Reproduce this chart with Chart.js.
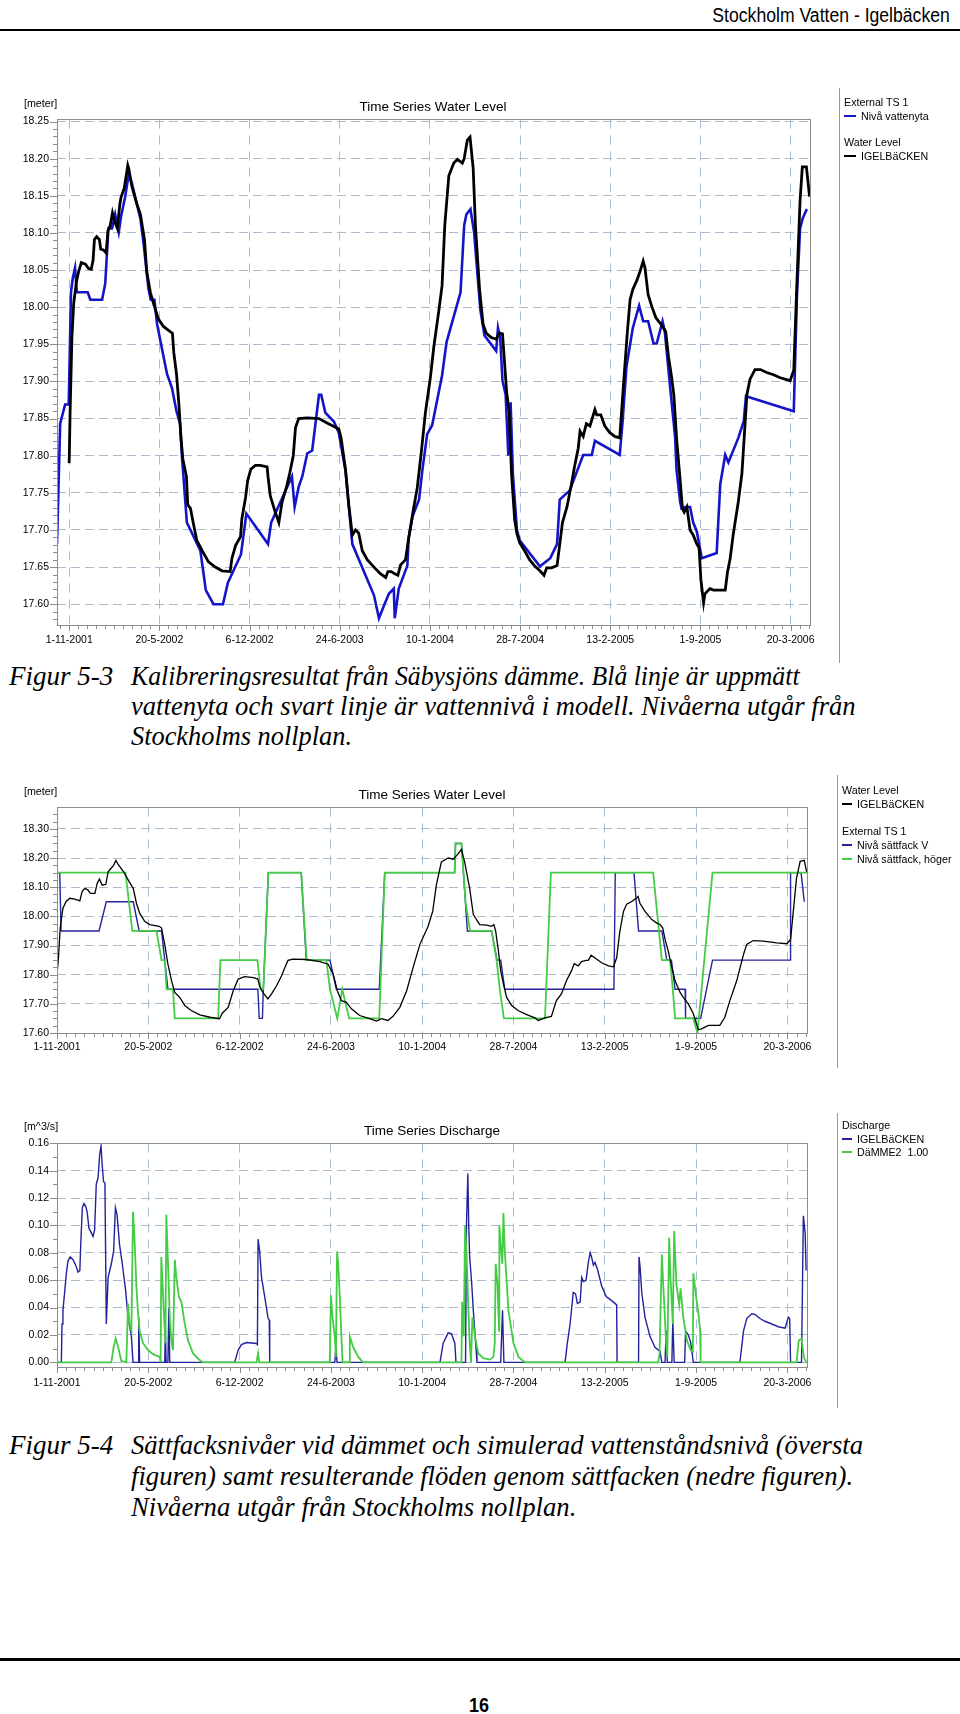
<!DOCTYPE html>
<html>
<head>
<meta charset="utf-8">
<script src="https://cdn.jsdelivr.net/npm/chart.js@4.4.1/dist/chart.umd.min.js"></script>
<style>
  body { margin: 0; background: #fff; }
  #page { position: relative; width: 960px; height: 1714px; overflow: hidden; font-family: "Liberation Sans", Arial, sans-serif; color: #000; }
  .abs { position: absolute; white-space: nowrap; }
  canvas { position: absolute; left: 0; }
  .t { font-size: 10.7px; line-height: 13px; }
  .ttl { font-size: 13.5px; line-height: 16px; transform: translateX(-50%); }
  .sw { display: inline-block; width: 10px; height: 2px; vertical-align: middle; margin-right: 5px; position: relative; top: -1px; }
  .cap { font-family: "Liberation Serif", "Times New Roman", serif; font-style: italic; font-size: 27px; line-height: 30px; transform-origin: left center; }
  .vline { position: absolute; width: 1px; background: #9a9a9a; }
</style>
</head>
<body>
<div id="page">
  <div class="abs" style="right:10px;top:3px;font:20px/24px 'Liberation Sans Narrow','Liberation Sans',sans-serif;transform:scaleX(0.88);transform-origin:right center;">Stockholm Vatten - Igelbäcken</div>
  <div class="abs" style="left:0;top:29px;width:960px;height:2px;background:#000;"></div>

  <canvas id="levelChart" width="830" height="554" style="top:105px;"></canvas>
  <canvas id="gateChart" width="830" height="274" style="top:793px;"></canvas>
  <canvas id="flowChart" width="830" height="272" style="top:1129px;"></canvas>

  <!-- chart 1 texts -->
  <div class="abs t" style="left:24px;top:97px;">[meter]</div>
  <div class="abs ttl" style="left:433px;top:99px;">Time Series Water Level</div>
  <div class="vline" style="left:839px;top:88px;height:575px;"></div>
  <div class="abs t" style="left:844px;top:96px;">External TS 1</div>
  <div class="abs t" style="left:844px;top:110px;"><span class="sw" style="background:#1414c8;width:12px;"></span>Nivå vattenyta</div>
  <div class="abs t" style="left:844px;top:136px;">Water Level</div>
  <div class="abs t" style="left:844px;top:150px;"><span class="sw" style="background:#000;width:12px;"></span>IGELBäCKEN</div>

  <div class="abs cap" style="left:9px;top:661px;">Figur 5-3</div>
  <div class="abs cap" style="left:131px;top:661px;transform:scaleX(0.953);">Kalibreringsresultat från Säbysjöns dämme. Blå linje är uppmätt</div>
  <div class="abs cap" style="left:131px;top:691px;transform:scaleX(0.985);">vattenyta och svart linje är vattennivå i modell. Nivåerna utgår från</div>
  <div class="abs cap" style="left:131px;top:721px;transform:scaleX(0.976);">Stockholms nollplan.</div>

  <!-- chart 2 texts -->
  <div class="abs t" style="left:24px;top:785px;">[meter]</div>
  <div class="abs ttl" style="left:432px;top:787px;">Time Series Water Level</div>
  <div class="vline" style="left:837px;top:775px;height:293px;"></div>
  <div class="abs t" style="left:842px;top:784px;">Water Level</div>
  <div class="abs t" style="left:842px;top:798px;"><span class="sw" style="background:#000;height:1.5px;"></span>IGELBäCKEN</div>
  <div class="abs t" style="left:842px;top:825px;">External TS 1</div>
  <div class="abs t" style="left:842px;top:839px;"><span class="sw" style="background:#25259a;height:1.5px;"></span>Nivå sättfack V</div>
  <div class="abs t" style="left:842px;top:853px;"><span class="sw" style="background:#44cc44;height:1.5px;"></span>Nivå sättfack, höger</div>

  <!-- chart 3 texts -->
  <div class="abs t" style="left:24px;top:1120px;">[m^3/s]</div>
  <div class="abs ttl" style="left:432px;top:1123px;">Time Series Discharge</div>
  <div class="vline" style="left:837px;top:1113px;height:295px;"></div>
  <div class="abs t" style="left:842px;top:1119px;">Discharge</div>
  <div class="abs t" style="left:842px;top:1133px;"><span class="sw" style="background:#22229c;height:1.5px;"></span>IGELBäCKEN</div>
  <div class="abs t" style="left:842px;top:1146px;"><span class="sw" style="background:#44cc44;height:1.5px;"></span>DäMME2&nbsp; 1.00</div>

  <div class="abs cap" style="left:9px;top:1430px;">Figur 5-4</div>
  <div class="abs cap" style="left:131px;top:1430px;transform:scaleX(0.986);">Sättfacksnivåer vid dämmet och simulerad vattenståndsnivå (översta</div>
  <div class="abs cap" style="left:131px;top:1461px;transform:scaleX(0.988);">figuren) samt resulterande flöden genom sättfacken (nedre figuren).</div>
  <div class="abs cap" style="left:131px;top:1492px;transform:scaleX(0.988);">Nivåerna utgår från Stockholms nollplan.</div>

  <div class="abs" style="left:0;top:1658px;width:960px;height:3px;background:#000;"></div>
  <div class="abs" style="left:479px;top:1693px;transform:translateX(-50%) scaleX(0.9);font:bold 20px/24px 'Liberation Sans Narrow','Liberation Sans',sans-serif;">16</div>
</div>

<script>
// x values are days counted from 1-11-2001
const dateLabels = ['1-11-2001', '20-5-2002', '6-12-2002', '24-6-2003', '10-1-2004', '28-7-2004', '13-2-2005', '1-9-2005', '20-3-2006'];

const levelTicks1 = [18.25, 18.20, 18.15, 18.10, 18.05, 18.00, 17.95, 17.90, 17.85, 17.80, 17.75, 17.70, 17.65, 17.60];
const levelTicks2 = [18.30, 18.20, 18.10, 18.00, 17.90, 17.80, 17.70, 17.60];
const flowTicks = [0.16, 0.14, 0.12, 0.10, 0.08, 0.06, 0.04, 0.02, 0.00];

// Figur 5-3: measured water surface (blue) and model level (black)
const measuredLevel = [[-27,17.681],[-20,17.843],[-9,17.869],[-1,17.869],[4,18.02],[8,18.039],[13,18.053],[17,18.02],[41,18.02],[47,18.01],[73,18.01],[80,18.032],[87,18.106],[95,18.106],[102,18.125],[110,18.101],[115,18.122],[124,18.148],[132,18.179],[139,18.167],[158,18.119],[165,18.086],[176,18.024],[181,18.01],[189,18.01],[195,17.977],[217,17.91],[228,17.891],[238,17.86],[246,17.843],[250,17.8],[261,17.71],[291,17.672],[303,17.619],[320,17.6],[341,17.6],[352,17.629],[381,17.667],[393,17.722],[441,17.681],[448,17.71],[494,17.772],[500,17.731],[509,17.758],[517,17.772],[528,17.803],[539,17.807],[554,17.882],[559,17.882],[568,17.858],[587,17.846],[598,17.831],[613,17.779],[628,17.681],[676,17.612],[687,17.581],[698,17.598],[709,17.614],[720,17.621],[722,17.581],[731,17.621],[750,17.652],[753,17.69],[762,17.719],[776,17.741],[783,17.779],[794,17.829],[805,17.841],[827,17.908],[837,17.953],[868,18.02],[876,18.11],[881,18.125],[890,18.132],[898,18.101],[912,17.996],[921,17.962],[947,17.941],[951,17.972],[956,17.958],[961,17.901],[968,17.882],[974,17.8],[979,17.872],[984,17.776],[993,17.7],[999,17.686],[1044,17.651],[1067,17.662],[1082,17.681],[1088,17.741],[1110,17.753],[1140,17.801],[1159,17.801],[1166,17.82],[1221,17.801],[1227,17.843],[1236,17.92],[1250,17.972],[1264,18.002],[1273,17.981],[1284,17.981],[1296,17.951],[1303,17.951],[1316,17.981],[1321,17.967],[1333,17.891],[1344,17.824],[1347,17.781],[1355,17.738],[1358,17.729],[1366,17.731],[1377,17.731],[1384,17.71],[1392,17.698],[1403,17.662],[1436,17.669],[1444,17.762],[1455,17.801],[1462,17.791],[1484,17.824],[1496,17.846],[1501,17.88],[1607,17.86],[1614,18.015],[1621,18.106],[1627,18.12],[1636,18.132]];

const modelLevel = [[0,17.79],[2,17.857],[6,17.958],[10,18.005],[16,18.034],[21,18.048],[27,18.06],[36,18.058],[43,18.052],[49,18.051],[53,18.063],[56,18.091],[61,18.095],[67,18.091],[70,18.078],[76,18.077],[82,18.073],[86,18.103],[91,18.11],[96,18.127],[101,18.115],[107,18.106],[112,18.137],[115,18.148],[122,18.16],[127,18.179],[130,18.191],[132,18.187],[139,18.163],[150,18.139],[158,18.125],[167,18.091],[172,18.048],[180,18.02],[189,18.001],[198,17.984],[209,17.974],[224,17.967],[229,17.965],[232,17.939],[238,17.91],[243,17.872],[248,17.824],[252,17.796],[260,17.772],[263,17.734],[269,17.729],[275,17.71],[283,17.686],[295,17.672],[309,17.657],[324,17.65],[339,17.645],[357,17.644],[361,17.662],[369,17.679],[380,17.691],[383,17.715],[391,17.743],[396,17.767],[403,17.782],[413,17.787],[424,17.787],[439,17.785],[441,17.772],[446,17.746],[457,17.724],[465,17.71],[472,17.737],[482,17.758],[489,17.776],[497,17.8],[502,17.838],[509,17.85],[528,17.851],[554,17.85],[572,17.844],[598,17.836],[603,17.824],[613,17.781],[620,17.734],[628,17.693],[635,17.7],[642,17.696],[650,17.672],[661,17.66],[676,17.65],[690,17.641],[702,17.636],[707,17.644],[714,17.644],[722,17.641],[729,17.639],[735,17.653],[746,17.66],[751,17.681],[761,17.719],[772,17.757],[781,17.805],[790,17.858],[801,17.905],[809,17.948],[820,17.996],[827,18.029],[833,18.11],[842,18.177],[853,18.194],[861,18.199],[872,18.194],[876,18.2],[883,18.225],[889,18.229],[896,18.187],[901,18.11],[910,18.025],[918,17.977],[925,17.965],[936,17.959],[947,17.957],[951,17.962],[955,17.965],[961,17.964],[964,17.939],[970,17.887],[976,17.858],[981,17.776],[988,17.714],[993,17.695],[999,17.683],[1010,17.672],[1021,17.66],[1033,17.651],[1044,17.645],[1053,17.639],[1059,17.649],[1070,17.649],[1082,17.652],[1088,17.681],[1094,17.71],[1104,17.731],[1114,17.762],[1121,17.786],[1129,17.81],[1133,17.833],[1140,17.826],[1147,17.843],[1155,17.84],[1166,17.862],[1170,17.855],[1179,17.855],[1188,17.84],[1199,17.831],[1210,17.826],[1221,17.824],[1225,17.858],[1230,17.901],[1238,17.967],[1244,18.01],[1250,18.024],[1259,18.036],[1266,18.048],[1273,18.062],[1277,18.053],[1284,18.017],[1292,18.001],[1301,17.986],[1310,17.979],[1318,17.972],[1323,17.967],[1329,17.934],[1336,17.906],[1341,17.882],[1347,17.824],[1355,17.767],[1360,17.729],[1364,17.724],[1370,17.731],[1377,17.7],[1384,17.693],[1392,17.681],[1397,17.676],[1401,17.633],[1407,17.602],[1410,17.614],[1421,17.621],[1429,17.619],[1455,17.619],[1460,17.643],[1466,17.662],[1473,17.695],[1484,17.738],[1492,17.776],[1497,17.824],[1503,17.882],[1510,17.903],[1521,17.916],[1533,17.916],[1547,17.912],[1562,17.909],[1577,17.905],[1599,17.901],[1607,17.915],[1614,18.034],[1621,18.144],[1626,18.189],[1635,18.189],[1638,18.172],[1642,18.149]];

// Figur 5-4 top: simulated level and the two gate levels
const simLevel = [[0,17.8],[3,17.853],[7,17.96],[13,18.028],[20,18.051],[28,18.062],[39,18.059],[50,18.053],[55,18.085],[61,18.096],[68,18.09],[73,18.079],[83,18.079],[88,18.113],[93,18.128],[99,18.107],[107,18.11],[112,18.153],[118,18.164],[124,18.175],[129,18.192],[134,18.178],[146,18.153],[158,18.119],[167,18.096],[174,18.045],[181,18.011],[192,17.983],[203,17.972],[224,17.966],[229,17.96],[236,17.904],[243,17.836],[251,17.779],[258,17.739],[269,17.722],[280,17.694],[294,17.677],[313,17.662],[335,17.654],[356,17.649],[362,17.668],[375,17.688],[386,17.745],[397,17.785],[411,17.793],[430,17.79],[440,17.785],[444,17.759],[451,17.739],[462,17.717],[470,17.734],[481,17.762],[492,17.796],[499,17.824],[506,17.849],[517,17.853],[546,17.852],[576,17.845],[594,17.836],[605,17.802],[614,17.745],[623,17.711],[634,17.705],[645,17.683],[663,17.66],[685,17.649],[700,17.641],[711,17.649],[725,17.643],[736,17.657],[751,17.688],[766,17.745],[780,17.824],[795,17.904],[813,17.966],[823,18.017],[831,18.107],[842,18.187],[857,18.2],[868,18.196],[879,18.215],[886,18.23],[893,18.187],[904,18.096],[912,18.006],[926,17.972],[941,17.97],[952,17.966],[957,17.972],[961,17.949],[967,17.881],[972,17.813],[978,17.768],[985,17.722],[996,17.694],[1010,17.677],[1029,17.663],[1047,17.652],[1054,17.643],[1069,17.652],[1083,17.657],[1094,17.711],[1105,17.734],[1116,17.779],[1127,17.813],[1133,17.838],[1142,17.83],[1149,17.845],[1159,17.849],[1164,17.849],[1170,17.867],[1178,17.858],[1193,17.841],[1208,17.83],[1219,17.827],[1226,17.858],[1233,17.949],[1241,18.017],[1248,18.042],[1259,18.051],[1270,18.064],[1273,18.068],[1277,18.045],[1288,18.017],[1303,17.989],[1314,17.977],[1321,17.972],[1327,17.96],[1332,17.921],[1339,17.881],[1347,17.824],[1354,17.779],[1365,17.739],[1372,17.722],[1383,17.7],[1394,17.666],[1405,17.611],[1412,17.614],[1427,17.626],[1452,17.626],[1463,17.654],[1474,17.711],[1489,17.779],[1504,17.87],[1511,17.904],[1525,17.917],[1547,17.915],[1577,17.909],[1599,17.906],[1607,17.921],[1613,18.017],[1620,18.13],[1628,18.189],[1637,18.192],[1642,18.153]];

const gateLeft = [[0,18.15],[6,18.15],[9,17.95],[92,17.95],[108,18.05],[167,18.05],[180,17.95],[229,17.95],[243,17.75],[440,17.75],[443,17.65],[450,17.65],[452,17.75],[463,18.15],[535,18.15],[546,17.85],[598,17.85],[612,17.75],[706,17.75],[718,18.15],[871,18.15],[873,18.25],[886,18.25],[899,17.95],[952,17.95],[964,17.85],[972,17.85],[981,17.75],[1220,17.75],[1223,18.15],[1264,18.15],[1274,17.95],[1325,17.95],[1336,17.85],[1346,17.85],[1354,17.75],[1376,17.75],[1377,17.65],[1410,17.65],[1436,17.85],[1606,17.85],[1607,18.15],[1630,18.15],[1637,18.05]];

const gateRight = [[0,18.15],[150,18.15],[165,17.95],[218,17.95],[229,17.85],[236,17.85],[240,17.75],[254,17.75],[258,17.65],[353,17.65],[358,17.85],[439,17.85],[446,17.75],[452,17.75],[463,18.15],[535,18.15],[547,17.85],[590,17.85],[598,17.75],[614,17.65],[625,17.75],[640,17.65],[706,17.65],[718,18.15],[871,18.15],[873,18.25],[886,18.25],[895,18.05],[905,17.95],[952,17.95],[963,17.85],[970,17.75],[979,17.65],[1069,17.65],[1082,18.15],[1306,18.15],[1325,17.85],[1343,17.85],[1349,17.75],[1354,17.65],[1394,17.65],[1403,17.6],[1436,18.15],[1643,18.15]];

// Figur 5-4 bottom: discharge
const flowModel = [[0,0],[9.5,0],[11,0.028],[13,0.038],[17,0.052],[20.5,0.065],[24,0.074],[29,0.077],[35,0.075],[41,0.071],[46,0.066],[50,0.067],[52,0.086],[55.5,0.113],[59,0.116],[63,0.114],[66,0.11],[70,0.098],[73,0.096],[79,0.092],[82.5,0.097],[86,0.13],[90,0.135],[93.5,0.152],[96.5,0.158],[99,0.144],[102,0.132],[105,0.131],[108,0.028],[112,0.062],[119,0.072],[124,0.081],[128,0.113],[131.5,0.108],[137,0.086],[143,0.072],[150.5,0.052],[155.5,0.033],[163,0.019],[166.5,0],[177.5,0],[179,0.033],[181,0],[236,0],[237.5,0.025],[239,0],[243,0],[245,0.04],[247,0],[389,0],[397,0.009],[404,0.013],[415,0.0145],[437,0.0138],[439,0.013],[440.5,0.09],[444,0.081],[448,0.062],[455,0.048],[462.5,0.032],[465,0.031],[466,0],[608.5,0],[611,0.011],[613.5,0],[839,0],[846,0.014],[857,0.0215],[864,0.021],[871.5,0.014],[874,0],[895,0],[897,0.1],[900,0.138],[902,0.1],[904,0.077],[908,0.06],[912,0.038],[918,0.01],[920,0],[972,0],[976,0.038],[979,0],[1113,0],[1118,0.014],[1124,0.028],[1131,0.051],[1136,0.05],[1140,0.043],[1146,0.044],[1149.5,0.062],[1153,0.059],[1159,0.06],[1164,0.073],[1168,0.08],[1171,0.077],[1175,0.071],[1178.5,0.073],[1184,0.068],[1193,0.056],[1203,0.048],[1211.5,0.046],[1219,0.044],[1226,0.042],[1227,0],[1274,0],[1275,0.077],[1277.5,0.069],[1281,0.051],[1288,0.033],[1299,0.019],[1310,0.011],[1321,0.008],[1325,0],[1332,0],[1334.5,0.023],[1337,0],[1347,0],[1349,0.031],[1352,0],[1375,0],[1377,0.023],[1383,0.02],[1388,0.015],[1394,0],[1496,0],[1504,0.023],[1511,0.032],[1522,0.0355],[1529,0.035],[1540,0.032],[1551,0.03],[1566,0.028],[1580,0.026],[1595,0.025],[1602,0.033],[1605,0.032],[1607,0],[1631,0],[1635,0.107],[1639,0.094],[1641,0.067]];

const flowDam = [[0,0],[119,0],[124,0.011],[128.5,0.0174],[134,0.011],[141,0.001],[152,0],[155.5,0.043],[159,0.028],[163,0.023],[166.5,0.11],[170,0.089],[174,0.055],[177.5,0.036],[181,0.023],[188.5,0.014],[199.5,0.009],[210,0.006],[225,0.004],[227,0],[228.5,0.077],[234,0.038],[237.5,0.014],[239.5,0.108],[243,0.074],[247,0.033],[250.5,0.016],[254,0.009],[258,0.075],[261.5,0.062],[267,0.048],[272.5,0.044],[280,0.028],[287,0.016],[298,0.0065],[312.5,0.0017],[320,0],[437,0],[440.5,0.0065],[443,0],[597.5,0],[600,0.049],[603.5,0.033],[608.5,0.019],[611,0.004],[613.5,0.081],[616,0.072],[619.5,0.048],[623,0.019],[625.5,0],[640,0],[641.5,0.019],[649,0.011],[660,0.004],[670.5,0],[886,0],[887.5,0.044],[891,0.019],[894,0.1],[897,0.081],[901,0.04],[904,0.014],[907,0],[910,0.033],[915.5,0.019],[923,0.0065],[934,0.003],[948,0.002],[956,0.004],[959,0.014],[961,0.072],[965,0.057],[968.5,0.023],[969,0.1],[972,0.086],[975.5,0.072],[978,0.109],[981,0.081],[989,0.038],[1000,0.014],[1011,0.004],[1025,0],[1317,0],[1320,0.006],[1325,0.079],[1328,0.057],[1334.5,0.014],[1337,0.004],[1341,0.091],[1344,0.062],[1349,0.028],[1352,0.096],[1357,0.057],[1363,0.042],[1366,0.054],[1372,0.033],[1380,0.016],[1388,0.009],[1393,0.008],[1394,0.065],[1400,0.048],[1405,0.036],[1409,0.023],[1410,0],[1620,0],[1625,0.016],[1631,0.0174],[1636,0.004],[1641,0],[1643,0]];

function dayOf(label) {
    const [d, m, y] = label.split('-').map(Number);
    return Math.round((Date.UTC(y, m - 1, d) - Date.UTC(2001, 10, 1)) / 864e5);
}
const tickDays = dateLabels.map(dayOf);
const toXY = (pairs) => pairs.map(([d, v]) => ({ x: d, y: v }));

// frame round the plot plus the small tick marks on both axes
const frameTicks = {
    id: 'frameTicks',
    afterDraw(chart, args, o) {
        const { ctx, chartArea: a, scales: { x, y } } = chart;
        ctx.save();
        ctx.strokeStyle = '#8c8c8c';
        ctx.lineWidth = 1;
        ctx.strokeRect(Math.round(a.left) + 0.5, Math.round(a.top) + 0.5, Math.round(a.right - a.left), Math.round(a.bottom - a.top));
        ctx.beginPath();
        for (let d = Math.ceil(x.min / 20) * 20; d <= x.max; d += 20) {
            const px = Math.round(x.getPixelForValue(d)) + 0.5;
            ctx.moveTo(px, a.bottom);
            ctx.lineTo(px, a.bottom + (d % 200 === 0 ? 6 : 4));
        }
        const k0 = Math.ceil(y.min / o.yMinor - 1e-6), k1 = Math.floor(y.max / o.yMinor + 1e-6);
        for (let k = k0; k <= k1; k++) {
            const v = k * o.yMinor;
            const r = v / o.yMajor;
            const major = Math.abs(r - Math.round(r)) < 1e-6;
            const py = Math.round(y.getPixelForValue(v)) + 0.5;
            ctx.moveTo(a.left, py);
            ctx.lineTo(a.left - (major ? 7 : 4), py);
        }
        ctx.stroke();
        ctx.restore();
    },
};

const tickFont = { family: 'Liberation Sans', size: 10.5 };
const gridColor = '#a9bccd';

function seriesChart(id, cfg) {
    return new Chart(document.getElementById(id), {
        type: 'line',
        plugins: [frameTicks],
        data: { datasets: cfg.datasets },
        options: {
            responsive: false,
            animation: false,
            events: [],
            layout: { padding: { left: 0, top: 12, right: 830 - cfg.right, bottom: 0 } },
            elements: { point: { radius: 0 }, line: { tension: 0 } },
            plugins: { legend: { display: false }, tooltip: { enabled: false }, frameTicks: { yMinor: cfg.yMinor, yMajor: cfg.yMajor } },
            scales: {
                x: {
                    type: 'linear', min: cfg.xMin, max: cfg.xMax,
                    afterBuildTicks: (s) => { s.ticks = tickDays.map((v) => ({ value: v })); },
                    afterFit: (s) => { s.height = 34; },
                    grid: { color: gridColor, drawTicks: false },
                    border: { display: false, dash: [9, 7] },
                    ticks: { autoSkip: false, maxRotation: 0, padding: cfg.xPad, color: '#000', font: tickFont, callback: (v, i) => dateLabels[i] },
                },
                y: {
                    type: 'linear', min: cfg.yMin, max: cfg.yMax,
                    afterBuildTicks: (s) => { s.ticks = cfg.yTicks.map((v) => ({ value: v })); },
                    afterFit: (s) => { s.width = cfg.left; },
                    grid: { color: gridColor, drawTicks: false },
                    border: { display: false, dash: [9, 5] },
                    ticks: { autoSkip: false, padding: 8, color: '#000', font: tickFont, callback: (v) => v.toFixed(2) },
                },
            },
        },
    });
}

seriesChart('levelChart', {
    left: 57, right: 810, xMin: -27, xMax: 1643, yMin: 17.572, yMax: 18.253,
    yTicks: levelTicks1, yMinor: 0.01, yMajor: 0.05, xPad: 9,
    datasets: [
        { label: 'IGELBäCKEN', data: toXY(modelLevel), borderColor: '#000', borderWidth: 2.8, order: 0 },
        { label: 'Nivå vattenyta', data: toXY(measuredLevel), borderColor: '#1414c8', borderWidth: 2.6, order: 1 },
    ],
});

seriesChart('gateChart', {
    left: 57, right: 807, xMin: 0, xMax: 1643, yMin: 17.6, yMax: 18.374,
    yTicks: levelTicks2, yMinor: 0.025, yMajor: 0.1, xPad: 8,
    datasets: [
        { label: 'IGELBäCKEN', data: toXY(simLevel), borderColor: '#000', borderWidth: 1.3, order: 0 },
        { label: 'Nivå sättfack, höger', data: toXY(gateRight), borderColor: '#44cc44', borderWidth: 1.8, order: 1 },
        { label: 'Nivå sättfack V', data: toXY(gateLeft), borderColor: '#25259a', borderWidth: 1.4, order: 2 },
    ],
});

seriesChart('flowChart', {
    left: 57, right: 807, xMin: 0, xMax: 1643, yMin: -0.0034, yMax: 0.16,
    yTicks: flowTicks, yMinor: 0.01, yMajor: 0.02, xPad: 10,
    datasets: [
        { label: 'DäMME2  1.00', data: toXY(flowDam), borderColor: '#44cc44', borderWidth: 1.8, order: 0 },
        { label: 'IGELBäCKEN', data: toXY(flowModel), borderColor: '#22229c', borderWidth: 1.4, order: 1 },
    ],
});
</script>
</body>
</html>
